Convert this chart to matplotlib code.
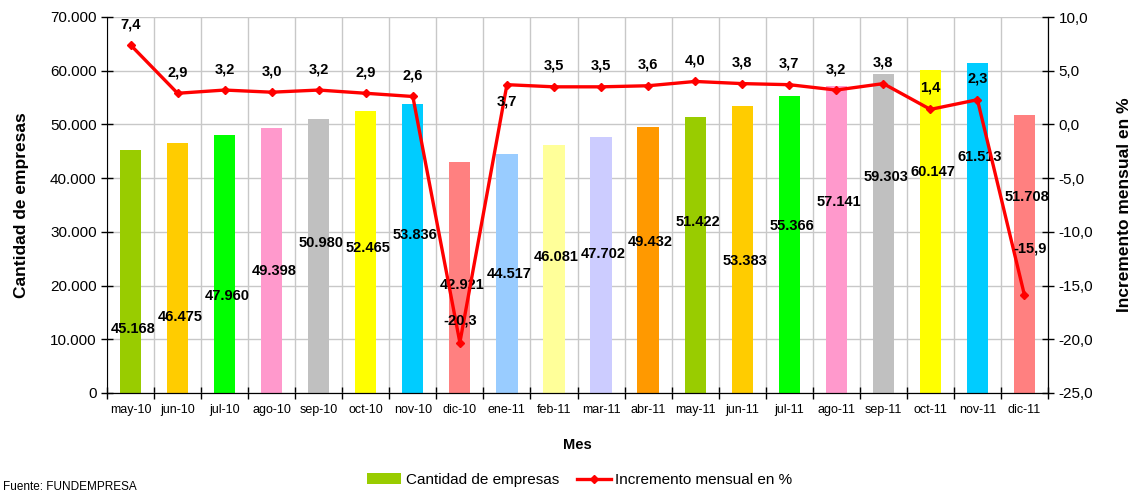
import matplotlib
matplotlib.use("Agg")
import matplotlib.pyplot as plt
import numpy as np
from matplotlib.lines import Line2D
from matplotlib.patches import Patch

plt.rcParams['font.family'] = ['Liberation Sans', 'DejaVu Sans']

months = ["may-10", "jun-10", "jul-10", "ago-10", "sep-10", "oct-10", "nov-10", "dic-10",
          "ene-11", "feb-11", "mar-11", "abr-11", "may-11", "jun-11", "jul-11", "ago-11",
          "sep-11", "oct-11", "nov-11", "dic-11"]
empresas = [45168, 46475, 47960, 49398, 50980, 52465, 53836, 42921, 44517, 46081,
            47702, 49432, 51422, 53383, 55366, 57141, 59303, 60147, 61513, 51708]
incremento = [7.4, 2.9, 3.2, 3.0, 3.2, 2.9, 2.6, -20.3, 3.7, 3.5, 3.5, 3.6, 4.0, 3.8,
              3.7, 3.2, 3.8, 1.4, 2.3, -15.9]
bar_colors = ["#99CC00", "#FFCC00", "#00FF00", "#FF99CC", "#C0C0C0", "#FFFF00", "#00CCFF",
              "#FF8080", "#99CCFF", "#FFFF99", "#CCCCFF", "#FF9900", "#99CC00", "#FFCC00",
              "#00FF00", "#FF99CC", "#C0C0C0", "#FFFF00", "#00CCFF", "#FF8080"]

# label placement (styling, in left-axis units) as in the original Excel output
bar_label_y = [12000, 14200, 18100, 22700, 27900, 27000, 29400, 20100, 22200, 25300,
               25900, 28100, 31800, 24600, 31100, 35600, 40200, 41100, 43900, 36500]
# line label offsets in points
line_label_dy = [15, 15, 15, 15, 15, 15, 15, 16, -12, 15, 15, 15, 15, 15, 15, 15, 15, 16, 15, 34]
line_label_dx = [0] * 19 + [4]

fig = plt.figure(figsize=(11.34, 4.91), dpi=100)
ax = fig.add_axes([107/1134, 1-393/491, (1048-107)/1134, (393-17)/491])
ax2 = ax.twinx()

x = np.arange(len(months))
ax.bar(x, empresas, width=0.45, color=bar_colors, zorder=2)
ax.set_xlim(-0.5, len(months) - 0.5)
ax.set_ylim(0, 70000)
ax.set_yticks(np.arange(0, 70001, 10000))
ax.set_yticklabels([f"{int(v):,}".replace(",", ".") for v in np.arange(0, 70001, 10000)], fontsize=11)
ax.set_xticks(x)
ax.set_xticklabels(months, fontsize=9)
ax.set_xticks(np.arange(-0.5, len(months)), minor=True)
ax.tick_params(axis='x', which='major', length=0, pad=8)
ax.tick_params(axis='x', which='minor', length=8, direction='inout', width=1)
ax.tick_params(axis='y', length=8, direction='inout', width=1)
ax.grid(True, axis='y', color='#C8C8C8', linewidth=1, zorder=0)
ax.grid(True, axis='x', which='minor', color='#C8C8C8', linewidth=1, zorder=0)
ax.set_axisbelow(True)
for s in ['top']:
    ax.spines[s].set_visible(False)
    ax2.spines[s].set_visible(False)
ax2.spines['left'].set_visible(False)

for xi, v, ly in zip(x, empresas, bar_label_y):
    ax.text(xi + 0.05, ly, f"{v:,}".replace(",", "."), ha='center', va='center',
            fontsize=10.5, fontweight='bold', zorder=5)

ax2.plot(x, incremento, color='#FF0000', linewidth=2.4, marker='D', markersize=4.5, zorder=4)
ax2.set_ylim(-25, 10)
ax2.set_yticks(np.arange(-25, 10.1, 5))
ax2.set_yticklabels([f"{v:.1f}".replace(".", ",") for v in np.arange(-25, 10.1, 5)], fontsize=11)
ax2.tick_params(axis='y', length=8, direction='inout', width=1)

for xi, v, dy, dx in zip(x, incremento, line_label_dy, line_label_dx):
    ax2.annotate(f"{v:.1f}".replace(".", ","), (xi, v), xytext=(dx, dy), textcoords='offset points',
                 ha='center', va='center', fontsize=10.5, fontweight='bold', zorder=6)

ax.set_ylabel("Cantidad de empresas", fontsize=12.5, fontweight='bold', labelpad=15)
ax2.set_ylabel("Incremento mensual en %", fontsize=12.5, fontweight='bold', labelpad=17)
ax.set_xlabel("Mes", fontsize=10.5, fontweight='bold', labelpad=16)

handles = [Patch(facecolor="#99CC00", edgecolor='none'),
           Line2D([0], [0], color='#FF0000', linewidth=2.4, marker='D', markersize=4.5)]
fig.legend(handles, ["Cantidad de empresas", "Incremento mensual en %"], ncol=2,
           loc='center', bbox_to_anchor=(580/1134, 1-480/491), frameon=False, fontsize=11,
           handlelength=2.2, handletextpad=0.3, columnspacing=1.2)
fig.text(3/1134, 1-487/491, "Fuente: FUNDEMPRESA", fontsize=8.5, ha='left', va='center')

fig.savefig("out.png", dpi=100)
